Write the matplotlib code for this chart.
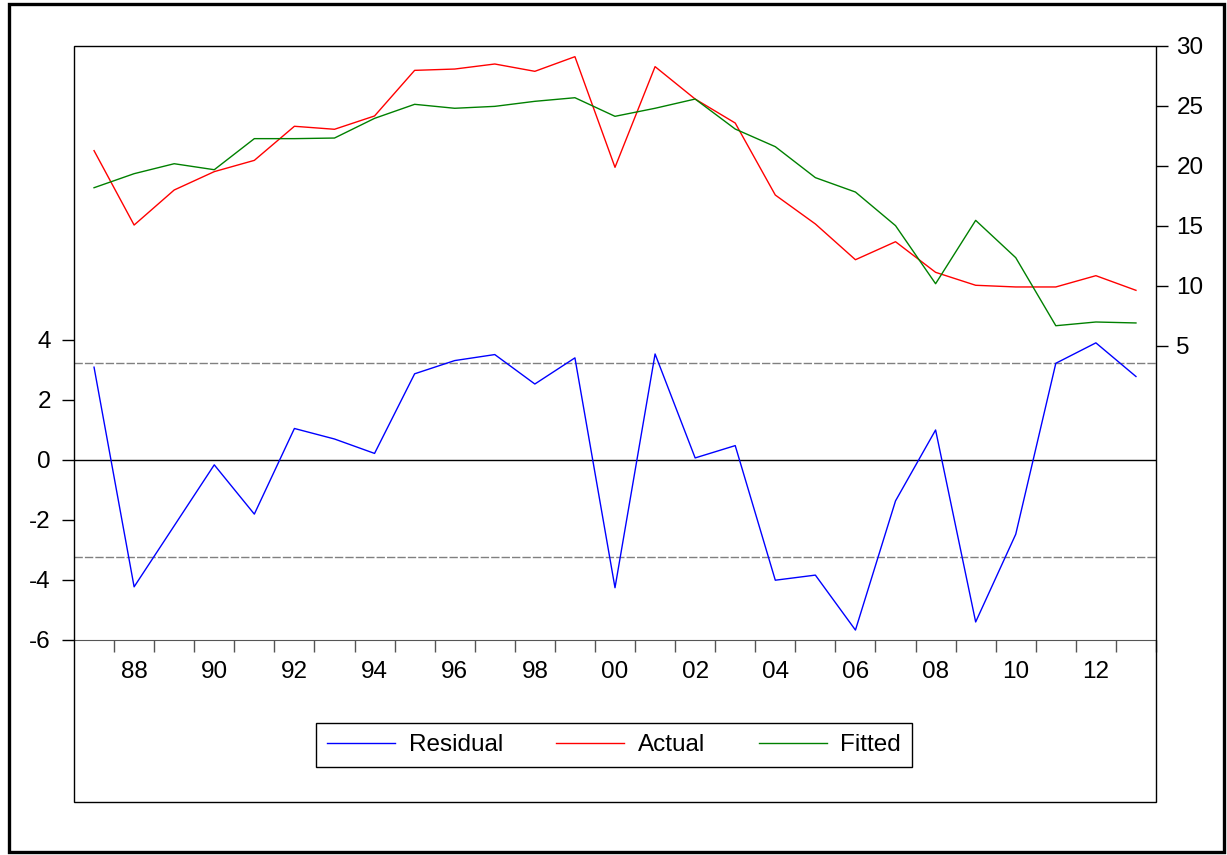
import matplotlib.pyplot as plt
from matplotlib.patches import Rectangle
from matplotlib.ticker import FixedLocator

plt.rcParams['font.family'] = ['Liberation Sans', 'DejaVu Sans']
plt.rcParams['axes.unicode_minus'] = False

years = list(range(1987, 2014))
residual = [3.08, -4.23, -2.2, -0.17, -1.81, 1.04, 0.69, 0.21, 2.86, 3.30, 3.50, 2.52, 3.39, -4.26,
            3.52, 0.06, 0.47, -4.01, -3.84, -5.67, -1.37, 0.99, -5.40, -2.48, 3.21, 3.89, 2.77]
actual = [21.28, 15.08, 18.0, 19.53, 20.47, 23.31, 23.06, 24.17, 27.97, 28.08, 28.5, 27.89, 29.11, 19.89,
          28.28, 25.58, 23.58, 17.58, 15.17, 12.19, 13.69, 11.14, 10.06, 9.92, 9.92, 10.86, 9.64]
fitted = [18.19, 19.36, 20.19, 19.69, 22.28, 22.28, 22.33, 23.97, 25.14, 24.81, 24.97, 25.39, 25.69, 24.14,
          24.81, 25.58, 23.08, 21.61, 19.03, 17.83, 15.03, 10.19, 15.47, 12.36, 6.69, 7.0, 6.92]
std_band = 3.23

left_ticks = [-6, -4, -2, 0, 2, 4]
right_ticks = [5, 10, 15, 20, 25, 30]
label_years = list(range(1988, 2014, 2))
year_labels = [f"{y % 100:02d}" for y in label_years]

W, H = 1227, 855
fig = plt.figure(figsize=(W / 100, H / 100), dpi=100)

def fx(px):
    return px / W

def fy(py):
    return 1 - py / H

# outer frame and the panel box (plot + legend area)
fig.patches.append(Rectangle((fx(9), fy(852)), fx(1224) - fx(9), fy(4) - fy(852),
                             transform=fig.transFigure, fill=False, lw=2.4, ec='black'))
fig.patches.append(Rectangle((fx(74), fy(802)), fx(1156) - fx(74), fy(46) - fy(802),
                             transform=fig.transFigure, fill=False, lw=1.0, ec='black'))

ax = fig.add_axes([fx(74), fy(640), fx(1156) - fx(74), fy(46) - fy(640)])
ax2 = ax.twinx()

ax.axhline(0, color='black', lw=1.0)
ax.axhline(std_band, color='gray', lw=1.0, ls=(0, (6, 1.5)))
ax.axhline(-std_band, color='gray', lw=1.0, ls=(0, (6, 1.5)))
l1, = ax.plot(years, residual, color='blue', lw=1.0)
l2, = ax2.plot(years, actual, color='red', lw=1.0)
l3, = ax2.plot(years, fitted, color='green', lw=1.0)

ax.set_xlim(1986.5, 2013.5)
ax.set_ylim(-6, 13.77)
ax2.set_ylim(-19.5, 30)

ax.set_xticks(label_years)
ax.set_xticklabels(year_labels)
ax.xaxis.set_minor_locator(FixedLocator([y + 0.5 for y in years]))
ax.tick_params(axis='x', which='major', length=0, pad=15, labelsize=17.5)
ax.tick_params(axis='x', which='minor', length=8.6, width=1.0, color='#555555', direction='out')

ax.set_yticks(left_ticks)
ax.tick_params(axis='y', length=8.6, width=1.0, direction='out', pad=8, labelsize=17.5)
ax2.set_yticks(right_ticks)
ax2.tick_params(axis='y', length=8.6, width=1.0, direction='out', pad=6, labelsize=17.5)

for a in (ax, ax2):
    a.spines['top'].set_visible(False)
    a.spines['left'].set_visible(False)
    a.spines['right'].set_visible(False)
ax2.spines['bottom'].set_visible(False)
ax.spines['bottom'].set_color('#555555')

leg = fig.legend([l1, l2, l3], ['Residual', 'Actual', 'Fitted'], loc='center',
                 bbox_to_anchor=(fx(614), fy(745)), ncol=3, fontsize=17.5,
                 frameon=True, fancybox=False, edgecolor='black', framealpha=1,
                 handlelength=2.8, handletextpad=0.55, columnspacing=2.2, borderpad=0.45)
leg.get_frame().set_linewidth(1.0)

fig.savefig('out.png', dpi=100)
